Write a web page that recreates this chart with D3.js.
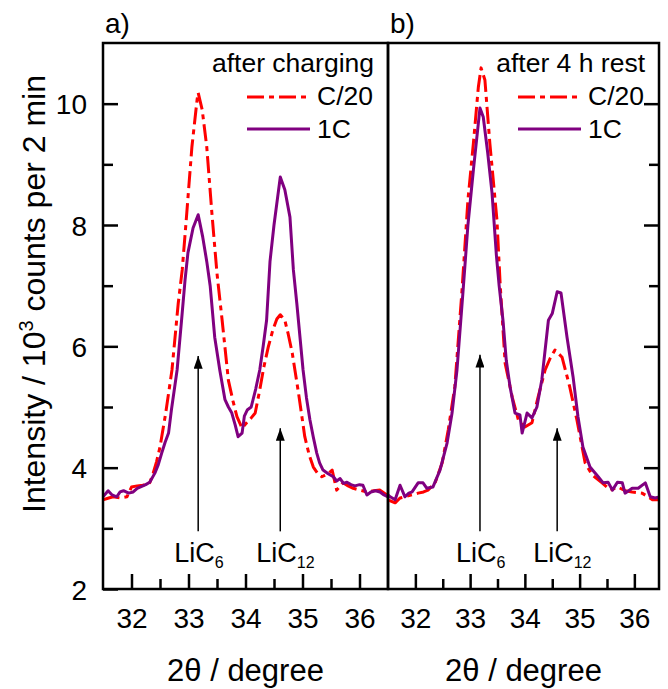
<!DOCTYPE html>
<html>
<head>
<meta charset="utf-8">
<script src="https://cdn.jsdelivr.net/npm/d3@7"></script>
<style>
  html, body { margin: 0; padding: 0; background: #fff; }
  svg { display: block; font-family: "Liberation Sans", Arial, sans-serif; }
</style>
</head>
<body>
<svg id="chart" width="668" height="689"></svg>
<script>
// XRD scans around the LiC6 / LiC12 reflections, [2θ (deg), counts / 10^3]
const afterChargingC20 = [
  [31.50,3.47],[31.60,3.50],[31.68,3.52],[31.80,3.50],[31.92,3.52],[32.00,3.68],[32.10,3.70],
  [32.20,3.71],[32.32,3.75],[32.38,3.91],[32.44,4.10],[32.50,4.34],[32.60,4.90],[32.71,5.61],
  [32.82,6.71],[32.89,7.26],[32.97,8.20],[33.06,9.29],[33.15,10.06],[33.17,10.18],[33.24,9.90],
  [33.32,9.29],[33.41,8.20],[33.50,7.20],[33.59,6.43],[33.70,5.44],[33.78,5.10],[33.85,4.84],
  [33.94,4.65],[34.02,4.74],[34.10,4.82],[34.17,4.90],[34.25,5.28],[34.32,5.65],[34.40,5.99],
  [34.48,6.27],[34.55,6.45],[34.61,6.52],[34.69,6.43],[34.75,6.20],[34.82,5.89],[34.93,5.23],
  [35.04,4.51],[35.12,4.20],[35.19,4.01],[35.27,3.90],[35.34,3.85],[35.45,3.90],[35.52,3.96],
  [35.60,3.63],[35.71,3.75],[35.80,3.70],[35.89,3.66],[36.00,3.63],[36.13,3.60],[36.25,3.62],
  [36.36,3.63],[36.48,3.55]
];
const afterCharging1C = [
  [31.50,3.52],[31.59,3.62],[31.66,3.55],[31.74,3.52],[31.80,3.60],[31.86,3.62],[31.95,3.58],
  [32.03,3.60],[32.10,3.66],[32.15,3.68],[32.25,3.72],[32.32,3.76],[32.41,3.91],[32.47,4.05],
  [32.53,4.24],[32.59,4.42],[32.65,4.57],[32.70,4.95],[32.80,5.61],[32.88,6.45],[32.94,7.10],
  [32.99,7.54],[33.08,7.95],[33.17,8.17],[33.25,7.80],[33.32,7.40],[33.38,7.00],[33.46,6.15],
  [33.55,5.60],[33.64,5.12],[33.70,5.00],[33.76,4.90],[33.82,4.70],[33.87,4.51],[33.94,4.57],
  [33.98,4.85],[34.03,4.95],[34.10,5.00],[34.18,5.30],[34.25,5.61],[34.31,6.00],[34.37,6.43],
  [34.43,7.40],[34.50,8.00],[34.61,8.79],[34.69,8.58],[34.78,8.13],[34.84,7.26],[34.90,6.71],
  [35.01,5.61],[35.07,5.15],[35.13,4.79],[35.19,4.50],[35.25,4.24],[35.30,4.08],[35.36,3.96],
  [35.45,3.90],[35.54,3.85],[35.60,3.78],[35.66,3.82],[35.72,3.74],[35.78,3.76],[35.85,3.72],
  [35.92,3.70],[36.00,3.72],[36.06,3.71],[36.13,3.55],[36.20,3.60],[36.28,3.62],[36.36,3.60],
  [36.43,3.55],[36.50,3.52]
];
const afterRestC20 = [
  [31.50,3.47],[31.63,3.42],[31.72,3.50],[31.81,3.52],[31.92,3.55],[32.05,3.58],[32.15,3.60],
  [32.23,3.63],[32.36,3.75],[32.49,4.08],[32.60,4.62],[32.72,5.33],[32.85,6.90],[32.96,8.41],
  [33.06,9.35],[33.15,10.27],[33.20,10.59],[33.27,10.39],[33.36,9.35],[33.49,8.08],[33.55,7.00],
  [33.64,5.72],[33.77,5.16],[33.88,4.79],[34.00,4.67],[34.13,4.74],[34.24,5.16],[34.37,5.61],
  [34.46,5.80],[34.55,5.94],[34.68,5.82],[34.82,5.33],[34.95,4.79],[35.10,4.08],[35.23,3.88],
  [35.41,3.75],[35.56,3.63],[35.70,3.68],[35.83,3.62],[35.96,3.60],[36.14,3.58],[36.25,3.52],
  [36.33,3.47],[36.47,3.47]
];
const afterRest1C = [
  [31.50,3.55],[31.54,3.52],[31.63,3.47],[31.72,3.71],[31.81,3.52],[31.88,3.58],[31.94,3.60],
  [32.05,3.75],[32.14,3.75],[32.21,3.66],[32.32,3.68],[32.45,3.96],[32.58,4.41],[32.67,4.90],
  [32.76,5.61],[32.87,6.90],[32.96,8.00],[33.06,8.91],[33.18,9.93],[33.24,9.78],[33.32,9.20],
  [33.40,8.53],[33.48,7.50],[33.53,7.00],[33.60,6.43],[33.66,5.77],[33.73,5.33],[33.82,4.90],
  [33.91,4.87],[33.95,4.57],[34.04,4.90],[34.13,4.82],[34.22,5.00],[34.31,5.45],[34.43,6.43],
  [34.50,6.54],[34.59,6.90],[34.66,6.88],[34.77,6.15],[34.88,5.50],[34.97,4.84],[35.06,4.34],
  [35.19,4.01],[35.34,3.85],[35.43,3.75],[35.52,3.76],[35.60,3.63],[35.69,3.76],[35.78,3.75],
  [35.83,3.58],[35.96,3.66],[36.07,3.66],[36.20,3.75],[36.29,3.52],[36.38,3.50],[36.47,3.52]
];

const xTicks = [32, 33, 34, 35, 36];
const xMinorTicks = [32.5, 33.5, 34.5, 35.5];
const yTicks = [2, 4, 6, 8, 10];
const yMinorTicks = [3, 5, 7, 9];
const seriesNames = ["C/20", "1C"];
const panelLabels = ["a)", "b)"];
const panelTitles = ["after charging", "after 4 h rest"];
// reflection markers: [2θ of arrow, arrow tip intensity, phase, subscript]
const markersA = [[33.17, 5.84, "LiC", "6"], [34.61, 4.65, "LiC", "12"]];
const markersB = [[33.18, 5.86, "LiC", "6"], [34.59, 4.65, "LiC", "12"]];

const FONT = '"Liberation Sans", Arial, sans-serif';
const RED = "#ff0000", PURPLE = "#800080";
const svg = d3.select("#chart");

const plotTop = 43, plotBottom = 589;
const y = d3.scaleLinear().domain([2, 11]).range([plotBottom, plotTop]);

const panels = [
  { x0: 103, x1: 388, domain: [31.5, 36.5], c20: afterChargingC20, c1: afterCharging1C,
    label: panelLabels[0], title: panelTitles[0], markers: markersA, leftAxis: true },
  { x0: 388, x1: 659, domain: [31.5, 36.45], c20: afterRestC20, c1: afterRest1C,
    label: panelLabels[1], title: panelTitles[1], markers: markersB, leftAxis: false }
];

const defs = svg.append("defs");
defs.append("marker").attr("id", "arrowhead")
  .attr("viewBox", "0 0 10 14").attr("refX", 5).attr("refY", 0)
  .attr("markerWidth", 9).attr("markerHeight", 14).attr("markerUnits", "userSpaceOnUse")
  .attr("orient", "0")
  .append("path").attr("d", "M0,14 L5,0 L10,14 Z").attr("fill", "#000");

panels.forEach((p, i) => {
  const x = d3.scaleLinear().domain(p.domain).range([p.x0, p.x1]);
  const g = svg.append("g");

  defs.append("clipPath").attr("id", "clip" + i)
    .append("rect").attr("x", p.x0).attr("y", plotTop).attr("width", p.x1 - p.x0).attr("height", plotBottom - plotTop);

  const line = d3.line().x(d => x(d[0])).y(d => y(d[1]));
  const plot = g.append("g").attr("clip-path", `url(#clip${i})`);
  plot.append("path").datum(p.c20).attr("d", line)
    .attr("fill", "none").attr("stroke", RED).attr("stroke-width", 3)
    .attr("stroke-dasharray", "17,5,5,5").attr("stroke-linejoin", "round");
  plot.append("path").datum(p.c1).attr("d", line)
    .attr("fill", "none").attr("stroke", PURPLE).attr("stroke-width", 3)
    .attr("stroke-linejoin", "round");

  // bottom axis with inward ticks
  const bx = g.append("g").attr("transform", `translate(0,${plotBottom})`)
    .call(d3.axisBottom(x).tickValues(xTicks).tickSize(-15).tickPadding(0).tickFormat(d3.format("d")));
  bx.select(".domain").remove();
  bx.selectAll(".tick line").attr("stroke", "#000").attr("stroke-width", 2.5);
  bx.selectAll(".tick text").attr("y", 39).attr("dy", 0).attr("fill", "#000")
    .style("font-family", FONT).style("font-size", "28px");
  g.append("g").attr("transform", `translate(0,${plotBottom})`)
    .call(d3.axisBottom(x).tickValues(xMinorTicks).tickSize(-10).tickFormat(""))
    .call(s => s.select(".domain").remove())
    .selectAll(".tick line").attr("stroke", "#000").attr("stroke-width", 2.5);

  // vertical axis: labelled on the left panel, mirrored ticks on the right panel
  if (p.leftAxis) {
    const ly = g.append("g").attr("transform", `translate(${p.x0},0)`)
      .call(d3.axisLeft(y).tickValues(yTicks).tickSize(-15).tickPadding(0).tickFormat(d3.format("d")));
    ly.select(".domain").remove();
    ly.selectAll(".tick line").attr("stroke", "#000").attr("stroke-width", 2.5);
    ly.selectAll(".tick text").attr("x", -16).attr("dy", "0.36em").attr("fill", "#000")
      .style("font-family", FONT).style("font-size", "28px");
    g.append("g").attr("transform", `translate(${p.x0},0)`)
      .call(d3.axisLeft(y).tickValues(yMinorTicks).tickSize(-10).tickFormat(""))
      .call(s => s.select(".domain").remove())
      .selectAll(".tick line").attr("stroke", "#000").attr("stroke-width", 2.5);
  } else {
    const ry = g.append("g").attr("transform", `translate(${p.x1},0)`)
      .call(d3.axisRight(y).tickValues(yTicks.filter(v => v > 2)).tickSize(-15).tickFormat(""));
    ry.select(".domain").remove();
    ry.selectAll(".tick line").attr("stroke", "#000").attr("stroke-width", 2.5);
    g.append("g").attr("transform", `translate(${p.x1},0)`)
      .call(d3.axisRight(y).tickValues(yMinorTicks).tickSize(-10).tickFormat(""))
      .call(s => s.select(".domain").remove())
      .selectAll(".tick line").attr("stroke", "#000").attr("stroke-width", 2.5);
  }

  // frame
  g.append("rect").attr("x", p.x0).attr("y", plotTop).attr("width", p.x1 - p.x0).attr("height", plotBottom - plotTop)
    .attr("fill", "none").attr("stroke", "#000").attr("stroke-width", 2.5);

  // panel letter
  g.append("text").attr("x", p.x0 + 2).attr("y", 33).text(p.label)
    .style("font-family", FONT).style("font-size", "28px").attr("fill", "#000");

  // legend
  const lgRight = p.x1 - 14;
  g.append("text").attr("x", lgRight).attr("y", 72).attr("text-anchor", "end").text(p.title)
    .style("font-family", FONT).style("font-size", "26.5px").attr("fill", "#000");
  const lgTextX = lgRight - 57;
  [[seriesNames[0], RED, "17,5,5,5", 97, 105], [seriesNames[1], PURPLE, null, 129, 138]].forEach(([name, col, dash, ly, ty]) => {
    const l = g.append("line").attr("x1", lgTextX - 70).attr("x2", lgTextX - 7)
      .attr("y1", ly).attr("y2", ly).attr("stroke", col).attr("stroke-width", 3);
    if (dash) l.attr("stroke-dasharray", dash);
    g.append("text").attr("x", lgTextX).attr("y", ty).text(name)
      .style("font-family", FONT).style("font-size", "26.5px").attr("fill", "#000");
  });

  // reflection arrows and phase labels
  p.markers.forEach(([tt, tip, phase, sub]) => {
    g.append("line").attr("x1", x(tt)).attr("x2", x(tt))
      .attr("y1", y(2.95)).attr("y2", y(tip))
      .attr("stroke", "#000").attr("stroke-width", 1.5).attr("marker-end", "url(#arrowhead)");
    const t = g.append("text").attr("x", x(tt) - 24).attr("y", 562)
      .style("font-family", FONT).style("font-size", "27px").attr("fill", "#000");
    t.append("tspan").text(phase);
    t.append("tspan").attr("dy", 6).style("font-size", "16px").text(sub);
  });

  // x-axis title
  g.append("text").attr("x", (p.x0 + p.x1) / 2).attr("y", 681).attr("text-anchor", "middle")
    .style("font-family", FONT).style("font-size", "31px").attr("fill", "#000")
    .text("2θ / degree");
});

// y-axis title
const yt = svg.append("text").attr("transform", "translate(45,294) rotate(-90)").attr("text-anchor", "middle")
  .style("font-family", FONT).style("font-size", "32px").attr("fill", "#000");
yt.append("tspan").text("Intensity / 10");
yt.append("tspan").attr("dy", -12).style("font-size", "20px").text("3");
yt.append("tspan").attr("dy", 12).text(" counts per 2 min");
</script>
</body>
</html>
